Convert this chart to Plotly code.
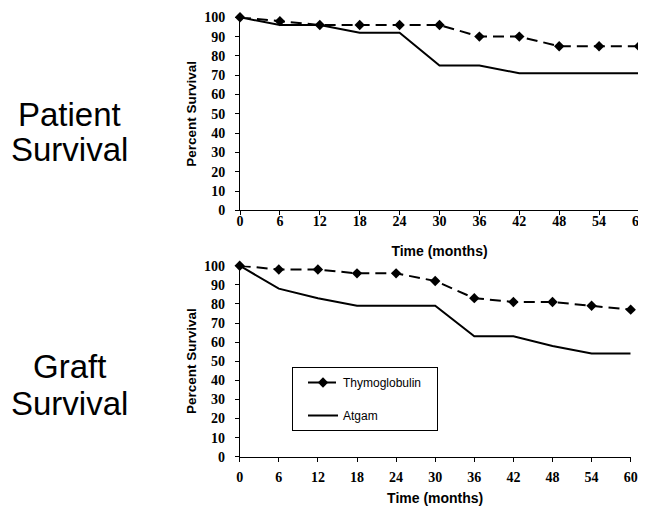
import plotly.graph_objects as go

months = [0, 6, 12, 18, 24, 30, 36, 42, 48, 54, 60]
tick_vals_x = [0, 6, 12, 18, 24, 30, 36, 42, 48, 54, 60]
tick_vals_y = [0, 10, 20, 30, 40, 50, 60, 70, 80, 90, 100]

patient_thymo = [100, 98, 96, 96, 96, 96, 90, 90, 85, 85, 85]
patient_atgam = [100, 96, 96, 92, 92, 75, 75, 71, 71, 71, 71]
graft_thymo = [100, 98, 98, 96, 96, 92, 83, 81, 81, 79, 77]
graft_atgam = [100, 88, 83, 79, 79, 79, 63, 63, 58, 54, 54]

# The page body has an 8px margin, so the figure is sized to fit the window
OX, OY = 8, 8
W, H = 646 - OX, 509 - OY

def px(x):
    return (x - OX) / W

def py(y):
    return 1 - (y - OY) / H

fig = go.Figure()

dash_style = "11px,6px"

def add_pair(thymo, atgam, xa, ya, show):
    fig.add_trace(go.Scatter(
        x=months, y=thymo, name="Thymoglobulin\u00a0\u00a0\u00a0", mode="lines+markers",
        line=dict(color="black", width=2, dash=dash_style),
        marker=dict(symbol="diamond", size=8, color="black"),
        xaxis=xa, yaxis=ya, showlegend=show, legendgroup="t", cliponaxis=False))
    fig.add_trace(go.Scatter(
        x=months, y=atgam, name="Atgam", mode="lines",
        line=dict(color="black", width=2),
        xaxis=xa, yaxis=ya, showlegend=show, legendgroup="a", cliponaxis=False))

add_pair(patient_thymo, patient_atgam, "x", "y", False)
add_pair(graft_thymo, graft_atgam, "x2", "y2", True)

tickfont = dict(family="Liberation Serif", size=14, color="black", weight="bold")
titlefont = dict(family="Liberation Sans", size=14, color="black", weight="bold")

def xax(domain, anchor, lab_standoff, title_standoff):
    return dict(domain=domain, anchor=anchor, range=[0, 60], tickvals=tick_vals_x,
                automargin=False, ticklabeloverflow="allow",
                showgrid=False, zeroline=False, showline=True, linecolor="black", linewidth=1,
                ticks="outside", ticklen=4, tickcolor="black", tickfont=tickfont,
                ticklabelstandoff=lab_standoff,
                title=dict(text="Time (months)", font=titlefont, standoff=title_standoff))

def yax(domain, anchor):
    return dict(domain=domain, anchor=anchor, range=[0, 100], tickvals=tick_vals_y,
                automargin=False, ticklabeloverflow="allow",
                showgrid=False, zeroline=False, showline=True, linecolor="black", linewidth=1,
                ticks="outside", ticklen=4, tickcolor="black", tickfont=tickfont,
                ticklabelstandoff=7,
                title=dict(text="Percent Survival",
                           font=dict(family="Liberation Sans", size=13.5, color="black", weight="bold"),
                           standoff=4))

fig.update_layout(
    template="none",
    width=W, height=H, autosize=False,
    margin=dict(l=0, r=0, t=0, b=0, autoexpand=False),
    paper_bgcolor="white", plot_bgcolor="white",
    xaxis=xax([px(240), px(639)], "y", -6, 18),
    yaxis=yax([py(210.3), py(17.3)], "x"),
    xaxis2=xax([px(239.7), px(630.7)], "y2", 3, 9),
    yaxis2=yax([py(456.7), py(265.7)], "x2"),
    legend=dict(x=px(292), y=py(367), xanchor="left", yanchor="top",
                bordercolor="black", borderwidth=1, bgcolor="white",
                font=dict(family="Liberation Sans", size=12, color="black"),
                traceorder="grouped", tracegroupgap=14, indentation=10),
    showlegend=True,
)

side_font = dict(family="Liberation Sans", size=33, color="black")
for txt, yc in [("Patient", 115), ("Survival", 149), ("Graft", 366), ("Survival", 403)]:
    fig.add_annotation(text=txt, x=px(70), y=py(yc), xref="paper", yref="paper",
                       xanchor="center", yanchor="middle", showarrow=False, font=side_font)

fig.write_html("out.html")
